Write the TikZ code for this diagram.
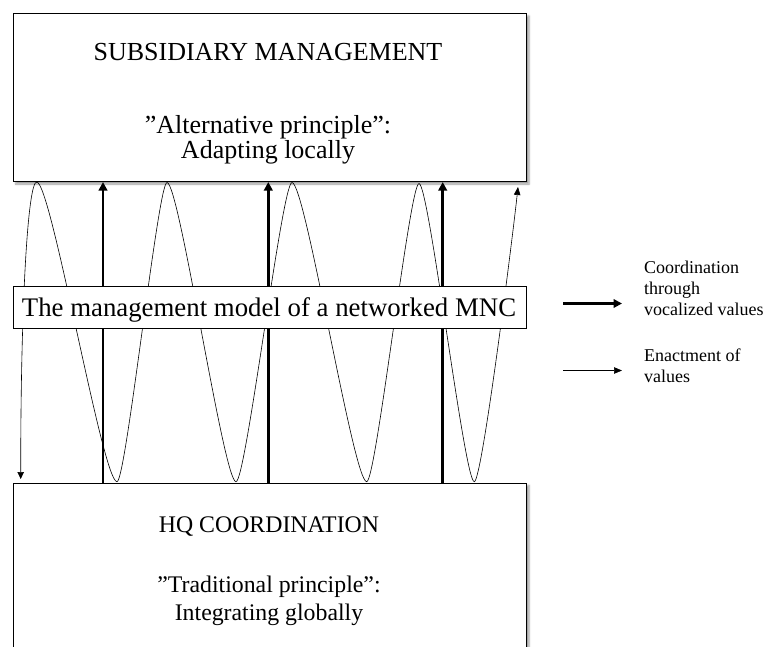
\documentclass[tikz,border=0pt]{standalone}
\usepackage{fontspec}
\setmainfont{Liberation Serif}
\usetikzlibrary{arrows.meta,shadows.blur}
\begin{document}
\begin{tikzpicture}[x=1pt,y=-1pt,
  box/.style={draw=black, line width=1pt, fill=white, inner sep=0pt, anchor=north west},
  shadowbox/.style={box, blur shadow={shadow xshift=2.5pt, shadow yshift=-2.5pt, shadow blur radius=2pt, shadow opacity=40}},
  thickarrow/.style={line width=2.7pt, -{Triangle[width=8.5pt,length=8.5pt]}},
  thinarrow/.style={line width=0.6pt, -{Triangle[width=6.5pt,length=8pt]}},
  wave/.style={line width=0.6pt, {Triangle[width=6.5pt,length=7pt]}-{Triangle[width=6.5pt,length=8pt]}},
  toptxt/.style={font=\fontsize{26}{30}\selectfont, anchor=base, inner sep=0pt},
  bottxt/.style={font=\fontsize{23.8}{28}\selectfont, anchor=base, inner sep=0pt},
  midtxt/.style={font=\fontsize{26.8}{32}\selectfont, anchor=base, inner sep=0pt},
  legtxt/.style={font=\fontsize{18}{21}\selectfont, anchor=base west, inner sep=0pt}
]
\useasboundingbox (0,0) rectangle (769,646);
\clip (0,0) rectangle (769,646);

% main boxes
\node[shadowbox, minimum width=513.3pt, minimum height=168pt] (sub) at (12.7,13) {};
\node[shadowbox, minimum width=513.3pt, minimum height=190pt] (hq) at (12.7,482.5) {};

% texts of the boxes
\node[toptxt] (subtitle) at (268,60.5) {SUBSIDIARY MANAGEMENT};
\node[toptxt] (subline1) at (268,133.5) {”Alternative principle”:};
\node[toptxt] (subline2) at (268,158.5) {Adapting locally};
\node[bottxt] (hqtitle) at (269,532.5) {HQ COORDINATION};
\node[bottxt] (hqline1) at (269,592) {”Traditional principle”:};
\node[bottxt] (hqline2) at (269,620) {Integrating globally};

% enactment wave
\draw[wave] (20.7,479)
  .. controls (20.7,300) and (28,182) .. (36.7,182)
  .. controls (51.2,182) and (102.5,481.7) .. (117,481.7)
  .. controls (126,481.7) and (158,182.5) .. (167,182.5)
  .. controls (179.4,182.5) and (223.6,481.7) .. (236,481.7)
  .. controls (246,481.7) and (282,182.5) .. (292,182.5)
  .. controls (305.4,182.5) and (353.3,481.7) .. (366.7,481.7)
  .. controls (376.1,481.7) and (409.6,183.5) .. (419,183.5)
  .. controls (429,183.5) and (464.3,481.7) .. (474.3,481.7)
  .. controls (482,481.7) and (513,234) .. (518,187);

% coordination arrows
\coordinate (x1) at (103,0);
\coordinate (x2) at (268.3,0);
\coordinate (x3) at (442.7,0);
\draw[thickarrow] (hq.north -| x1) -- (sub.south -| x1);
\draw[thickarrow] (hq.north -| x2) -- (sub.south -| x2);
\draw[thickarrow] (hq.north -| x3) -- (sub.south -| x3);

% middle box
\node[box, minimum width=513.3pt, minimum height=41.8pt] (model) at (12.7,285.7) {};
\node[midtxt] (modeltxt) at (269,316.5) {The management model of a networked MNC};

% legend
\coordinate (la1) at (563,303.5);
\coordinate (lb1) at (622,303.5);
\coordinate (la2) at (563,370.5);
\coordinate (lb2) at (622,370.5);
\draw[thickarrow] (la1) -- (lb1);
\draw[thinarrow] (la2) -- (lb2);
\node[legtxt] (leg1a) at (644,273) {Coordination};
\node[legtxt] (leg1b) at (644,294) {through};
\node[legtxt] (leg1c) at (644,315) {vocalized values};
\node[legtxt] (leg2a) at (644,361) {Enactment of};
\node[legtxt] (leg2b) at (644,382) {values};
\end{tikzpicture}
\end{document}
